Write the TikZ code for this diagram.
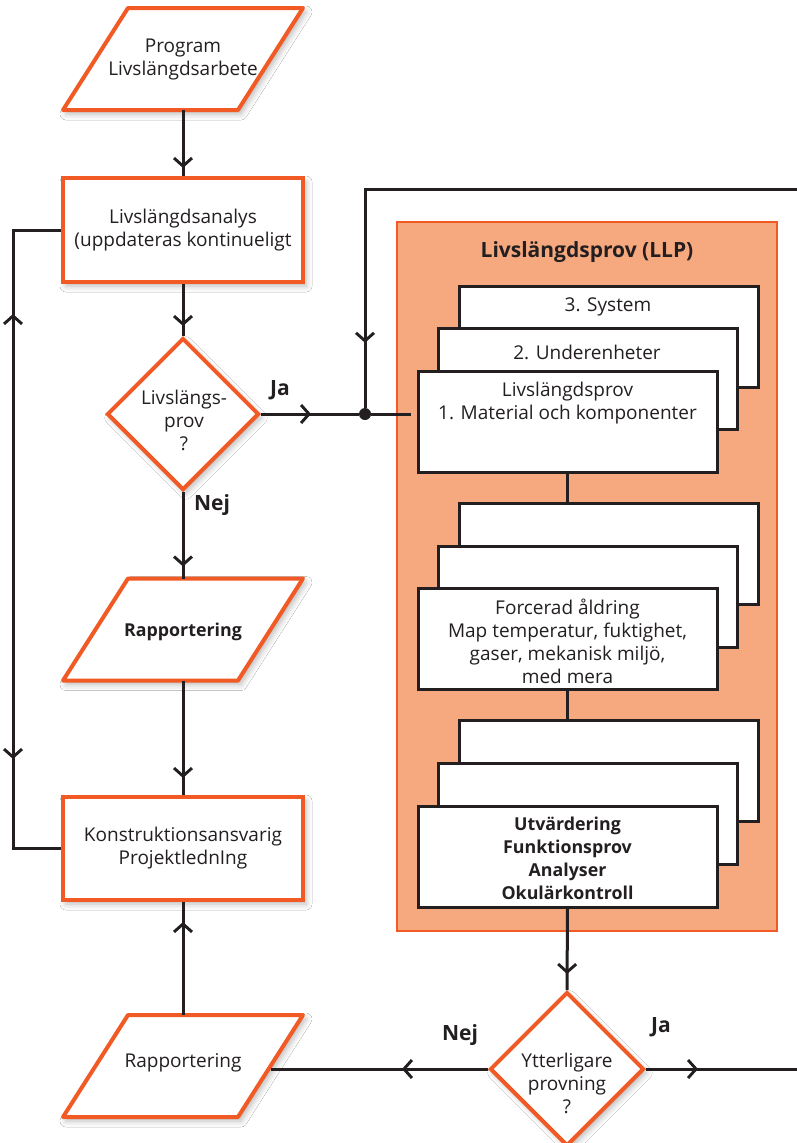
\documentclass[tikz,border=0pt]{standalone}
\usepackage{fontspec}
\setmainfont{Open Sans}
\usetikzlibrary{arrows.meta,decorations.markings,shapes.geometric,shadows.blur}
\definecolor{ink}{HTML}{231F20}
\definecolor{flame}{HTML}{F15A24}
\definecolor{salmon}{HTML}{F6A87F}

\begin{document}
\begin{tikzpicture}[x=1pt,y=-1pt,
  chev/.tip={Straight Barb[length=8pt,width=18pt,line width=2.9pt]},
  txt/.style={font=\fontsize{19}{23}\selectfont, text=ink, align=center},
  btxt/.style={txt, font=\fontsize{17.8}{23}\selectfont\bfseries},
  lab/.style={font=\fontsize{21}{24}\selectfont\bfseries, text=ink},
  softshadow/.style={blur shadow={shadow xshift=3pt,shadow yshift=-4pt,shadow blur radius=6pt,shadow opacity=28}},
  obox/.style={draw=flame, line width=4pt, fill=white, softshadow,
    minimum width=240pt, minimum height=#1, inner sep=0pt},
  pbody/.style={minimum width=175pt, minimum height=102pt, inner sep=0pt, outer sep=0pt},
  pshape/.style={draw=flame, line width=4pt, fill=white, softshadow, line join=round},
  decide/.style={diamond, draw=flame, line width=4pt, fill=white, softshadow,
    minimum size=#1, inner sep=0pt},
  sbox/.style={draw=ink, fill=white, line width=3pt, minimum width=299pt,
    minimum height=101pt, inner sep=0pt},
  flow/.style={draw=ink, line width=3pt},
  arrowat/.style={postaction={decorate,decoration={markings,
    mark=at position #1 with {\arrow{chev}}}}},
]
% page
\fill[white] (0,0) rectangle (797,1143);
\useasboundingbox (0,0) rectangle (797,1143);

% ---- left column ----
\node[pbody] (p1) at (183,59) {};
\draw[pshape] ([xshift=32.5pt]p1.north west) -- ([xshift=32.5pt]p1.north east)
  -- ([xshift=-32.5pt]p1.south east) -- ([xshift=-32.5pt]p1.south west) -- cycle;
\node[txt] (p1t) at (p1) {Program\\Livslängdsarbete};

\node[obox=104pt, txt] (b1) at (183,230) {Livslängdsanalys\\(uppdateras kontinueligt};

\node[decide=152pt] (d1) at (183,414) {};
\node[txt] (d1t) at (184,420) {Livslängs-\\prov\\?};

\node[pbody] (r1) at (183,629.5) {};
\draw[pshape] ([xshift=32.5pt]r1.north west) -- ([xshift=32.5pt]r1.north east)
  -- ([xshift=-32.5pt]r1.south east) -- ([xshift=-32.5pt]r1.south west) -- cycle;
\node[btxt] (r1t) at (183,632) {Rapportering};

\node[obox=103pt, txt] (k) at (183,848.5) {Konstruktionsansvarig\\ProjektlednIng};

\node[pbody] (r2) at (183,1066) {};
\draw[pshape] ([xshift=32.5pt]r2.north west) -- ([xshift=32.5pt]r2.north east)
  -- ([xshift=-32.5pt]r2.south east) -- ([xshift=-32.5pt]r2.south west) -- cycle;
\node[txt] (r2t) at (183,1063) {Rapportering};

% ---- LLP container ----
\node[draw=flame, fill=salmon, line width=2.2pt, minimum width=380pt,
  minimum height=709pt, inner sep=0pt] (llp) at (587,576.5) {};
\node[lab] (llpt) at (587,252) {Livslängdsprov (LLP)};

% stack 1
\node[sbox] (s1a) at (608.5,337) {};
\node[sbox] (s1b) at (587.5,378.5) {};
\node[sbox] (s1c) at (567.5,422) {};
\node[txt] at (608,307) {3. System};
\node[txt] at (587,352) {2. Underenheter};
\node[txt] at (567.5,403.5) {Livslängdsprov\\1. Material och komponenter};

% stack 2
\node[sbox] (s2a) at (608.5,554) {};
\node[sbox] (s2b) at (587.5,596.5) {};
\node[sbox] (s2c) at (567.5,639) {};
\node[txt] at (567.5,641.5) {Forcerad åldring\\Map temperatur, fuktighet,\\gaser, mekanisk miljö,\\med mera};

% stack 3
\node[sbox] (s3a) at (608.5,771) {};
\node[sbox] (s3b) at (587.5,814) {};
\node[sbox] (s3c) at (567.5,856.5) {};
\node[btxt] at (567.5,858.5) {Utvärdering\\Funktionsprov\\Analyser\\Okulärkontroll};

% second decision
\node[decide=154pt] (d2) at (567,1069) {};
\node[txt] (d2t) at (567,1083) {Ytterligare\\provning\\?};

% junction and free ends
\node[circle, fill=ink, minimum size=12pt, inner sep=0pt] (j) at (365,414) {};
\coordinate (feed) at (797,189);
\coordinate (exit) at (797,1069);

% labels
\node[lab] (ja1) at (280,390) {Ja};
\node[lab] (nej1) at (212,505) {Nej};
\node[lab] (nej2) at (460,1035) {Nej};
\node[lab] (ja2) at (661,1027) {Ja};

% ---- connectors ----
\draw[flow, arrowat=-8pt] (p1.south) -- (b1.north);
\draw[flow, arrowat=-10pt] (b1.south) -- (d1.north);
\draw[flow, arrowat=-12pt] (d1.south) -- (r1.north);
\draw[flow, arrowat=-17pt] (r1.south) -- (k.north);
\draw[flow, arrowat=-20pt] (r2.north) -- (k.south);
\draw[flow, postaction={decorate,decoration={markings,
    mark=at position 132pt with {\arrowreversed{chev}},
    mark=at position 577pt with {\arrow{chev}}}}]
  (b1.west) -- ++(-48,0) |- (k.west);

\draw[flow, arrowat=50pt] (d1.east) -- (j);
\draw[flow, arrowat=-65pt] (feed) -| (j);
\draw[flow, shorten >=6pt] (j) -- (j -| s1c.west);

\draw[flow] (s1c.south) -- (s1c.south |- s2a.north);
\draw[flow] (s2c.south) -- (s2c.south |- s3a.north);
\draw[flow, arrowat=-16pt] (s3c.south) -- (d2.north);
\draw[flow, arrowat=86pt] (d2.west) -- (d2.west -| r2.east);
\draw[flow, arrowat=52pt] (d2.east) -- (exit);
\end{tikzpicture}
\end{document}
